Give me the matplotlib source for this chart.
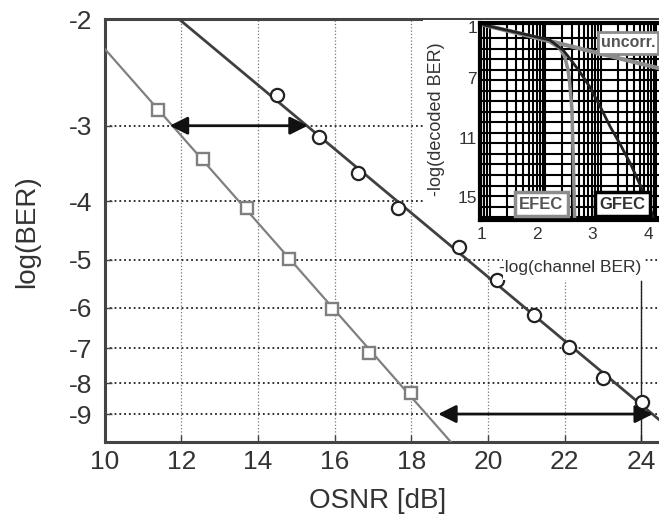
import numpy as np
import matplotlib
matplotlib.use('Agg')
from matplotlib import pyplot as plt
from matplotlib.patches import Rectangle
from matplotlib.ticker import NullLocator

plt.rcParams['font.family'] = ['Liberation Sans', 'DejaVu Sans']

# main plot: measured log(BER) vs OSNR
osnr_sq = [11.40, 12.58, 13.71, 14.81, 15.92, 16.90, 17.99]
logber_sq = [-2.83, -3.41, -4.11, -4.99, -6.02, -7.12, -8.30]
osnr_ci = [14.49, 15.58, 16.60, 17.65, 19.23, 20.23, 21.21, 22.11, 23.01, 24.01]
logber_ci = [-2.67, -3.13, -3.59, -4.11, -4.76, -5.40, -6.16, -6.97, -7.84, -8.59]

# OSNR gap arrows
arrow_logber = [-3, -9]
arrow_from = [11.7, 18.7]
arrow_to = [15.3, 24.3]

ytick_vals = [-2, -3, -4, -5, -6, -7, -8, -9]
xtick_vals = [10, 12, 14, 16, 18, 20, 22, 24]

# inset: -log(decoded BER) vs -log(channel BER)
unc_x = [1.05, 2.2, 4.2]
unc_y = [3.40, 4.45, 6.32]
gfec_x = [1.05, 1.69, 2.23, 2.47, 2.59, 2.77, 2.95, 3.14, 3.32, 3.49, 3.68, 3.86, 4.07, 4.10]
gfec_y = [3.40, 3.94, 4.41, 5.09, 5.65, 6.55, 7.57, 8.92, 10.27, 11.39, 12.74, 14.21, 16.12, 16.57]
efec_x = [1.05, 1.69, 2.23, 2.41, 2.50, 2.56, 2.59, 2.63, 2.65, 2.68]
efec_y = [3.40, 3.94, 4.53, 4.97, 5.54, 6.44, 7.34, 9.14, 11.84, 16.57]
inset_xticks = [1, 2, 3, 4]
inset_yticks = [3.5, 7, 11, 15]
inset_ylabels = ['1', '7', '11', '15']

W, H = 659, 519
fig = plt.figure(figsize=(W / 100, H / 100), dpi=100)
ax = fig.add_axes([104.5 / W, 1 - 441.7 / H, 575.3 / W, 422.4 / H])

ax.set_xlim(10, 25)
ax.set_yscale('log')
ax.set_ylim(10, 2)
ax.set_yticks([-v for v in ytick_vals])
ax.set_yticklabels([str(v) for v in ytick_vals])
ax.yaxis.set_minor_locator(NullLocator())
ax.set_xticks(xtick_vals)

ax.yaxis.grid(True, ls=':', color='#222222', lw=1.3)
ax.xaxis.grid(True, ls=':', color='#777777', lw=0.9)

xfit = np.linspace(9.5, 25.5, 200)
c_sq = np.polyfit(osnr_sq, np.log10(-np.array(logber_sq)), 1)
c_ci = np.polyfit(osnr_ci, np.log10(-np.array(logber_ci)), 1)
ax.plot(xfit, 10 ** np.polyval(c_sq, xfit), color='#808080', lw=1.6, zorder=3)
ax.plot(xfit, 10 ** np.polyval(c_ci, xfit), color='#404040', lw=2, zorder=3)
ax.plot(osnr_sq, -np.array(logber_sq), 's', ms=8.5, mfc='white', mec='#7f7f7f', mew=1.7, zorder=4)
ax.plot(osnr_ci, -np.array(logber_ci), 'o', ms=9.5, mfc='white', mec='#222222', mew=1.6, zorder=4)

for y, x0, x1 in zip(arrow_logber, arrow_from, arrow_to):
    ax.annotate('', xy=(x1, -y), xytext=(x0, -y),
                arrowprops=dict(arrowstyle='<|-|>,head_length=0.9,head_width=0.45',
                                color='#111111', lw=2, shrinkA=0, shrinkB=0, mutation_scale=12),
                zorder=5)
ax.axvline(24, ymin=0, ymax=0.38, color='#222222', lw=1)

for s in ['left', 'bottom', 'top']:
    ax.spines[s].set_linewidth(2.2)
    ax.spines[s].set_color('#444444')
ax.spines['right'].set_visible(False)
ax.tick_params(axis='both', direction='in', length=5, width=1, labelsize=19,
               labelcolor='#333333', color='#444444')
ax.tick_params(axis='y', pad=9)
ax.tick_params(axis='x', pad=6)

fig.text(27.5 / W, 1 - 232 / H, 'log(BER)', rotation=90, ha='center', va='center',
         fontsize=20, color='#333333')
fig.text(378 / W, 1 - 501 / H, 'OSNR [dB]', ha='center', va='center',
         fontsize=20, color='#333333')

# white area behind the inset and its labels
for (x0, y0, x1, y1) in [(423, 20, 659, 205), (475, 205, 659, 258), (503, 258, 645, 280)]:
    fig.add_artist(Rectangle((x0 / W, 1 - y1 / H), (x1 - x0) / W, (y1 - y0) / H,
                             transform=fig.transFigure, fc='white', ec='none', zorder=1))

ax_in = fig.add_axes([479.8 / W, 1 - 220 / H, 190.4 / W, 196.7 / H], zorder=3)
ax_in.set_xlim(0.97, 4.4)
ax_in.set_ylim(16.57, 3.28)
vpos = [n + 0.15 + np.log10(k) for n in range(0, 5) for k in range(1, 10)]
ax_in.vlines(vpos, 3.28, 16.57, color='black', lw=1.5)
ax_in.hlines(np.arange(4.3, 16.6, 0.71), 0.97, 4.4, color='black', lw=1.5)
ax_in.plot(unc_x, unc_y, color='#8c8c8c', lw=3)
ax_in.plot(efec_x, efec_y, color='#8c8c8c', lw=2.5)
ax_in.plot(gfec_x, gfec_y, color='#222222', lw=2)

ax_in.text(3.64, 4.61, 'uncorr.', ha='center', va='center', fontsize=11.5, fontweight='bold',
           color='#555555', bbox=dict(boxstyle='square,pad=0.2', fc='white', ec='#8c8c8c', lw=2))
ax_in.text(2.08, 15.49, 'EFEC', ha='center', va='center', fontsize=12, fontweight='bold',
           color='#555555', bbox=dict(boxstyle='square,pad=0.25', fc='white', ec='#8c8c8c', lw=2.5))
ax_in.text(3.54, 15.49, 'GFEC', ha='center', va='center', fontsize=12, fontweight='bold',
           color='#333333', bbox=dict(boxstyle='square,pad=0.25', fc='white', ec='black', lw=2.5))

ax_in.set_xticks(inset_xticks)
ax_in.set_yticks(inset_yticks)
ax_in.set_yticklabels(inset_ylabels)
ax_in.tick_params(length=0, labelsize=12.5, labelcolor='#333333')
ax_in.tick_params(axis='x', pad=5)
ax_in.tick_params(axis='y', pad=2)
for s in ax_in.spines.values():
    s.set_linewidth(3)
    s.set_color('black')

ax_in.text(-0.225, 0.513, '-log(decoded BER)', transform=ax_in.transAxes, rotation=90,
           ha='center', va='center', fontsize=13, color='#333333')
ax_in.text(0.474, -0.239, '-log(channel BER)', transform=ax_in.transAxes,
           ha='center', va='center', fontsize=12.5, color='#333333')

fig.savefig('out.png', dpi=100)
